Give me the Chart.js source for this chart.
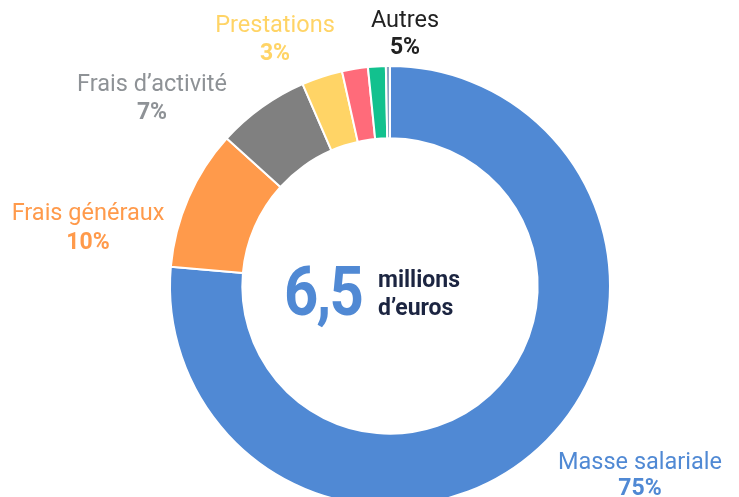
<!DOCTYPE html>
<html lang="fr">
<head>
<meta charset="utf-8">
<script src="https://cdn.jsdelivr.net/npm/chart.js@4/dist/chart.umd.min.js"></script>
<style>
  html, body { margin: 0; padding: 0; overflow: hidden; background: #fff; }
  #wrap { width: 739px; height: 520px; }
</style>
</head>
<body>
<div id="wrap"><canvas id="myChart"></canvas></div>
<script>
// slices, clockwise from the top
const categories = ["Masse salariale", "Frais généraux", "Frais d’activité", "Prestations", "Autres (a)", "Autres (b)", "Autres (c)"];
const shares = [76.4, 10.3, 6.8, 3.0, 1.9, 1.3, 0.3];
const sliceColors = ["#5089d4", "#ff9a4b", "#808080", "#ffd466", "#ff6b7a", "#12c18e", "#8fa3c2"];

// labels written round the ring
const labelNames = ["Masse salariale", "Frais généraux", "Frais d’activité", "Prestations", "Autres"];
const labelPercents = ["75%", "10%", "7%", "3%", "5%"];
const labelColors = ["#5089d4", "#ff9a4b", "#8e9296", "#ffd466", "#222222"];
// offsets from the chart centre: [x, name baseline, percent baseline]
const labelOffsets = [[250, 183, 209], [-302, -66, -37], [-238, -195, -167], [-115, -254, -226], [15, -259, -232]];

const totalText = "6,5";
const unitLines = ["millions", "d’euros"];

const labelsPlugin = {
    id: "ringLabels",
    afterDraw(chart) {
        const ctx = chart.ctx;
        const arc = chart.getDatasetMeta(0).data[0];
        const cx = arc.x;
        const cy = arc.y;
        ctx.save();
        ctx.textAlign = "center";
        ctx.textBaseline = "alphabetic";
        labelNames.forEach((name, i) => {
            const [dx, y1, y2] = labelOffsets[i];
            ctx.fillStyle = labelColors[i];
            ctx.font = "400 23.5px Roboto";
            ctx.fillText(name, cx + dx, cy + y1);
            ctx.font = "700 23px Roboto";
            ctx.fillText(labelPercents[i], cx + dx, cy + y2);
        });

        // centre text, condensed a little
        ctx.fillStyle = "#5089d4";
        ctx.font = "700 68px Roboto";
        ctx.letterSpacing = "-2px";
        ctx.save();
        ctx.translate(cx - 28, cy + 29);
        ctx.scale(0.88, 1);
        ctx.textAlign = "right";
        ctx.fillText(totalText, 0, 0);
        ctx.restore();
        ctx.letterSpacing = "0px";
        ctx.textAlign = "left";
        ctx.fillStyle = "#1c2541";
        ctx.font = "700 23px Roboto";
        ctx.fillText(unitLines[0], cx - 12, cy + 1);
        ctx.fillText(unitLines[1], cx - 12, cy + 29);
        ctx.restore();
    },
};

const chart = new Chart(document.querySelector("#myChart"), {
    type: "doughnut",
    data: {
        labels: categories,
        datasets: [
            {
                data: shares,
                backgroundColor: sliceColors,
                borderColor: "#ffffff",
                borderWidth: 2,
            },
        ],
    },
    options: {
        responsive: true,
        maintainAspectRatio: false,
        animation: false,
        radius: 220,
        cutout: 147,
        layout: { padding: { left: 170, right: 129, top: 66, bottom: 14 } },
        plugins: {
            legend: { display: false },
            tooltip: { enabled: false },
        },
    },
    plugins: [labelsPlugin],
});
</script>
</body>
</html>
